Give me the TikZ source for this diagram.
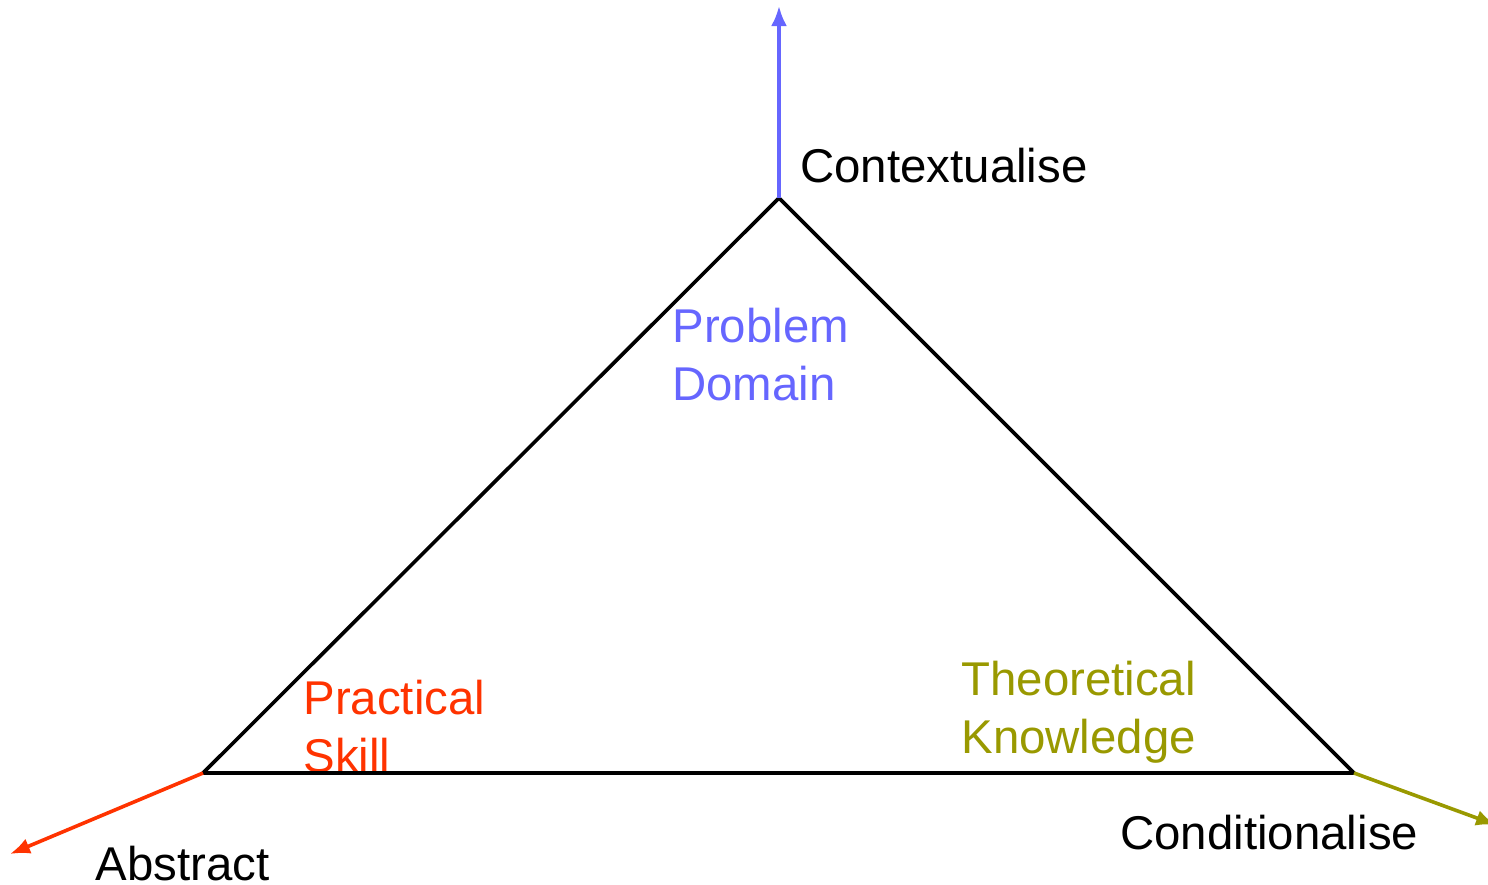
\documentclass[tikz,border=0pt]{standalone}
\usepackage{fontspec}
\setmainfont{Liberation Sans}
\usetikzlibrary{arrows.meta}
\definecolor{ctxblue}{HTML}{6666FF}
\definecolor{absred}{HTML}{FF3300}
\definecolor{condolive}{HTML}{999900}
\begin{document}
\begin{tikzpicture}[x=0.5pt,y=-0.5pt,
  label/.style={inner sep=0pt,anchor=base west,align=left,
    font=\fontsize{23.7pt}{29pt}\selectfont},
  side/.style={line width=1.8pt,line join=round},
  axis/.style={line width=1.8pt,-{Latex[length=10pt,width=8pt]}}]
\useasboundingbox (0,0) rectangle (1488,884);

\coordinate (top) at (779,198);
\coordinate (left) at (203,773);
\coordinate (right) at (1354,773);
\coordinate (ctxend) at (779,6);
\coordinate (absend) at (10,854);
\coordinate (condend) at (1496,825);

\node[label] (ctx) at (800,182) {Contextualise};
\node[label] (abs) at (95,880) {Abstract};
\node[label] (cond) at (1120,849) {Conditionalise};
\node[label,text=ctxblue] (prob) at (672,400) {Problem\\Domain};
\node[label,text=absred] (prac) at (303,772) {Practical\\Skill};
\node[label,text=condolive] (theo) at (961,753) {Theoretical\\Knowledge};

\draw[side] (top) -- (right) -- (left) -- cycle;

\path
(top) edge[axis,ctxblue] (ctxend)
(left) edge[axis,absred] (absend)
(right) edge[axis,condolive] (condend);
\end{tikzpicture}
\end{document}
